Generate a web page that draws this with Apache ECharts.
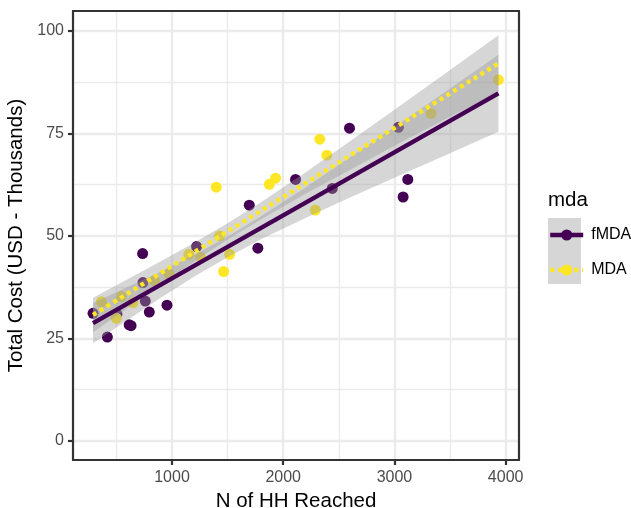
<!DOCTYPE html>
<html>
<head>
<meta charset="utf-8">
<script src="https://cdn.jsdelivr.net/npm/echarts@6/dist/echarts.min.js"></script>
<style>
  html, body { margin: 0; padding: 0; background: #fff; }
  #chart { width: 631px; height: 508px; }
</style>
</head>
<body>
<div id="chart"></div>
<script>
const xTicks = [1000, 2000, 3000, 4000];
const xMinorTicks = [500, 1500, 2500, 3500];
const yTicks = [0, 25, 50, 75, 100];
const yMinorTicks = [12.5, 37.5, 62.5, 87.5];

// points
const fmdaX = [2596, 3036, 2111, 3120, 3078, 1695, 2441, 1221, 1772, 736, 739, 290, 505, 760, 796, 955, 615, 632, 419];
const fmdaY = [76.3, 76.5, 63.8, 63.8, 59.5, 57.5, 61.6, 47.4, 47.0, 45.7, 38.6, 31.1, 30.9, 34.1, 31.4, 33.1, 28.3, 28.1, 25.3];
const mdaX = [3935, 3330, 2329, 2392, 1398, 1931, 1875, 2288, 1428, 1518, 1464, 1152, 1257, 973, 844, 545, 649, 365, 500];
const mdaY = [88.1, 79.9, 73.6, 69.7, 61.9, 64.1, 62.6, 56.3, 50.0, 45.5, 41.3, 45.5, 44.8, 40.7, 39.1, 35.2, 33.7, 33.9, 29.9];

// fitted lines (end points) and confidence bands
const fitX = [290, 3935];
const fmdaFit = [28.7, 84.8];
const mdaFit = [30.7, 92.1];
const bandX = [290, 600, 900, 1200, 1500, 1800, 2200, 2600, 3000, 3500, 3935];
const fmdaLo = [23.8, 29.5, 34.9, 40.1, 44.8, 49.2, 54.4, 59.4, 64.2, 70.2, 75.4];
const fmdaHi = [33.6, 37.5, 41.3, 45.4, 49.8, 54.8, 61.8, 69.2, 76.6, 86.0, 94.2];
const mdaLo = [26.5, 32.4, 38.2, 43.7, 49.1, 54.0, 60.3, 66.1, 72.0, 79.1, 85.2];
const mdaHi = [34.9, 39.4, 43.8, 48.3, 53.1, 58.2, 65.5, 73.1, 80.8, 90.5, 99.0];

const PURPLE = '#440154';
const YELLOW = '#FDE725';
const BAND = 'rgba(153,153,153,0.4)';
const FONT = 'Liberation Sans';

const chart = echarts.init(document.getElementById('chart'));

const pairs = (xs, ys) => xs.map((x, i) => [x, ys[i]]);

const frame = {show: true, onZero: false, lineStyle: {color: '#333333', width: 2.2}};

// ribbon drawn as one polygon through the axis scales
const bandSeries = (name, lo, hi) => ({
  type: 'custom', name: name, silent: true, z: 3,
  data: bandX.map((x, i) => [x, lo[i], hi[i]]),
  encode: {x: 0, y: [1, 2]},
  renderItem: (params, api) => {
    if (params.dataIndex !== 0) return null;
    const pts = [];
    bandX.forEach((x, i) => pts.push(api.coord([x, hi[i]])));
    for (let i = bandX.length - 1; i >= 0; i--) pts.push(api.coord([bandX[i], lo[i]]));
    return {type: 'polygon', shape: {points: pts}, style: {fill: BAND}};
  }
});

const option = {
  animation: false,
  textStyle: {fontFamily: FONT},
  grid: {left: 73, right: 112, top: 11, bottom: 48, outerBoundsMode: 'none', containLabel: false},
  xAxis: [
    {
      type: 'value', min: 110, max: 4120, position: 'bottom',
      axisLine: frame,
      axisTick: {show: true, length: 5, customValues: xTicks, lineStyle: {color: '#333333', width: 2.2}},
      axisLabel: {customValues: xTicks, margin: 10, fontSize: 16, color: '#4d4d4d', fontFamily: FONT,
        formatter: v => String(v)},
      splitLine: {show: true, lineStyle: {color: '#ebebeb', width: 2.4}},
      name: 'N of HH Reached', nameLocation: 'middle', nameGap: 31,
      nameTextStyle: {fontSize: 20.5, color: '#000', fontFamily: FONT}
    },
    {
      type: 'value', min: 110, max: 4120, position: 'top',
      axisLine: frame,
      axisTick: {show: false, customValues: xMinorTicks},
      axisLabel: {show: false},
      splitLine: {show: true, lineStyle: {color: '#ebebeb', width: 1.4}}
    }
  ],
  yAxis: [
    {
      type: 'value', min: -4.7, max: 104.9, position: 'left',
      axisLine: frame,
      axisTick: {show: true, length: 5, customValues: yTicks, lineStyle: {color: '#333333', width: 2.2}},
      axisLabel: {customValues: yTicks, margin: 9, fontSize: 16, color: '#4d4d4d', fontFamily: FONT,
        formatter: v => String(v)},
      splitLine: {show: true, lineStyle: {color: '#ebebeb', width: 2.4}},
      name: 'Total Cost (USD - Thousands)', nameLocation: 'middle', nameGap: 43,
      nameTextStyle: {fontSize: 20.5, color: '#000', fontFamily: FONT}
    },
    {
      type: 'value', min: -4.7, max: 104.9, position: 'right',
      axisLine: frame,
      axisTick: {show: false, customValues: yMinorTicks},
      axisLabel: {show: false},
      splitLine: {show: true, lineStyle: {color: '#ebebeb', width: 1.4}}
    }
  ],
  legend: {
    data: ['fMDA', 'MDA'],
    orient: 'vertical',
    left: 543, top: 222,
    itemWidth: 33, itemHeight: 14, itemGap: 19,
    lineStyle: {width: 'inherit'},
    textStyle: {fontSize: 16, color: '#000', fontFamily: FONT, padding: [0, 0, 0, 3]}
  },
  graphic: [
    {type: 'text', left: 548, top: 190, z: 0,
      style: {text: 'mda', fontSize: 20.5, fill: '#000', fontFamily: FONT}},
    {type: 'rect', left: 548, top: 218, z: 0, shape: {width: 33, height: 33}, style: {fill: '#d6d6d6'}},
    {type: 'rect', left: 548, top: 251, z: 0, shape: {width: 33, height: 33}, style: {fill: '#d6d6d6'}}
  ],
  series: [
    {
      type: 'line', name: 'fMDA', data: pairs(fitX, fmdaFit),
      color: PURPLE, symbol: 'circle', symbolSize: 11, showSymbol: false,
      lineStyle: {width: 4.4, color: PURPLE}, z: 4
    },
    {
      type: 'line', name: 'MDA', data: pairs(fitX, mdaFit),
      color: YELLOW, symbol: 'circle', symbolSize: 11, showSymbol: false,
      lineStyle: {width: 4.4, color: YELLOW, type: [4, 4]}, z: 4
    },
    {
      type: 'scatter', name: 'fMDA', data: pairs(fmdaX, fmdaY),
      symbolSize: 11, itemStyle: {color: PURPLE, opacity: 1}, z: 2
    },
    {
      type: 'scatter', name: 'MDA', data: pairs(mdaX, mdaY),
      symbolSize: 11, itemStyle: {color: YELLOW, opacity: 1}, z: 2
    },
    bandSeries('fMDA', fmdaLo, fmdaHi),
    bandSeries('MDA', mdaLo, mdaHi)
  ]
};

chart.setOption(option);

window.addEventListener('resize', () => {
  chart.resize();
});
</script>
</body>
</html>
